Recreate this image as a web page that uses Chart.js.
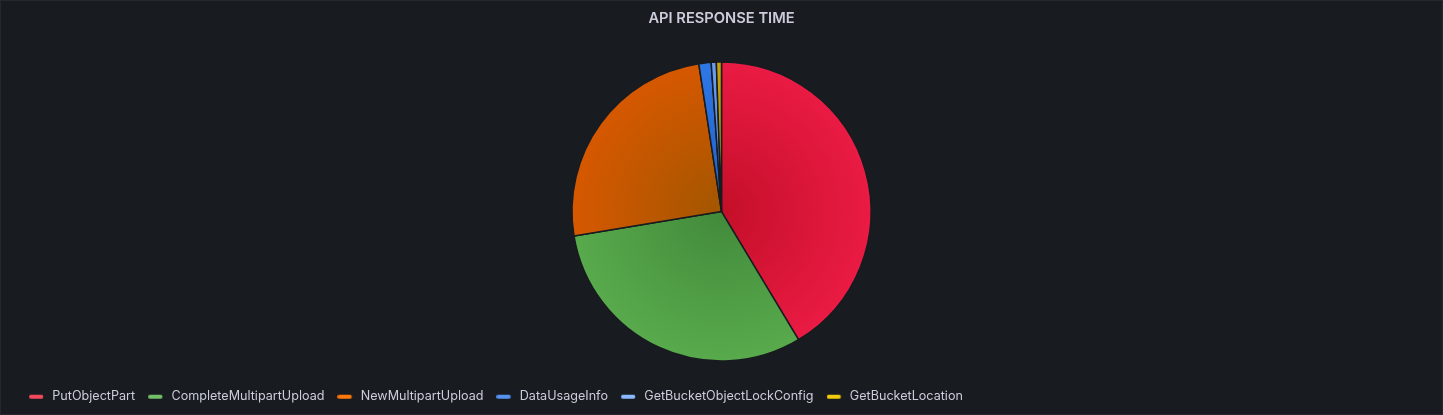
<!DOCTYPE html>
<html>
<head>
<meta charset="utf-8">
<script src="https://cdn.jsdelivr.net/npm/chart.js@4.4.1/dist/chart.umd.min.js"></script>
<style>
html,body{margin:0;padding:0;background:#181b1f;}
#panel{position:relative;width:1441px;height:413px;border:1px solid #25282e;background:#181b1f;}
</style>
</head>
<body>
<div id="panel"><canvas id="myChart"></canvas></div>
<script>
var apis = ["PutObjectPart", "CompleteMultipartUpload", "NewMultipartUpload", "DataUsageInfo", "GetBucketObjectLockConfig", "GetBucketLocation"]
var response_time = [41.4, 31.0, 25.2, 1.33, 0.55, 0.55]
var legend_colors = ["#F2495C", "#73BF69", "#FF780A", "#5794F2", "#8AB8FF", "#F2CC0C"]
var inner_colors = ["#c40f28", "#428a3b", "#a35600", "#1f5fc8", "#4d7fd6", "#a88a05"]
var outer_colors = ["#ea1b44", "#58aa4c", "#d65800", "#2f78e6", "#6b9df0", "#c7a30c"]

function marker(color){
	var c = document.createElement('canvas')
	c.width = 17
	c.height = 6
	var g = c.getContext('2d')
	g.strokeStyle = color
	g.lineWidth = 4
	g.lineCap = 'round'
	g.beginPath()
	g.moveTo(2, 3)
	g.lineTo(12.4, 3)
	g.stroke()
	return c
}

function sliceFill(context){
	var chart = context.chart
	var area = chart.chartArea
	var i = context.dataIndex
	if (!area) return outer_colors[i]
	var cx = (area.left + area.right) / 2
	var cy = (area.top + area.bottom) / 2
	var r = Math.min(area.right - area.left, area.bottom - area.top) / 2
	var grad = chart.ctx.createRadialGradient(cx, cy, 0, cx, cy, r)
	grad.addColorStop(0, inner_colors[i])
	grad.addColorStop(1, outer_colors[i])
	return grad
}

var myChart = document.getElementById("myChart").getContext('2d')
var chart = new Chart(myChart, {
	type: 'pie',
	data: {
		labels: apis,
		datasets: [{
			data: response_time,
			backgroundColor: sliceFill,
			borderColor: "#181b1f",
			borderWidth: 1.5
		}]
	},
	options: {
		responsive: true,
		maintainAspectRatio: false,
		animation: false,
		layout: {padding: {left: 15, right: 15, top: 0, bottom: 1}},
		plugins: {
			tooltip: {enabled: false},
			title: {
				display: true,
				text: "API RESPONSE TIME",
				color: "#ccccdc",
				font: {family: "Inter", size: 14.7, weight: 600},
				padding: {top: 9, bottom: 33.6}
			},
			// empty spacer between pie and legend
			subtitle: {
				display: true,
				position: 'bottom',
				weight: 500,
				text: " ",
				font: {size: 10, lineHeight: 1},
				padding: {top: 5.6, bottom: 0}
			},
			legend: {
				position: 'bottom',
				align: 'start',
				labels: {
					usePointStyle: true,
					pointStyleWidth: 17,
					padding: 13,
					color: "#ccccdc",
					font: {family: "Inter", size: 12.6},
					generateLabels: function(ch){
						return apis.map(function(name, i){
							return {
								text: name,
								fillStyle: legend_colors[i],
								strokeStyle: legend_colors[i],
								lineWidth: 0,
								pointStyle: marker(legend_colors[i]),
								fontColor: "#ccccdc",
								hidden: false,
								index: i
							}
						})
					}
				}
			}
		}
	}
})
</script>
</body>
</html>
